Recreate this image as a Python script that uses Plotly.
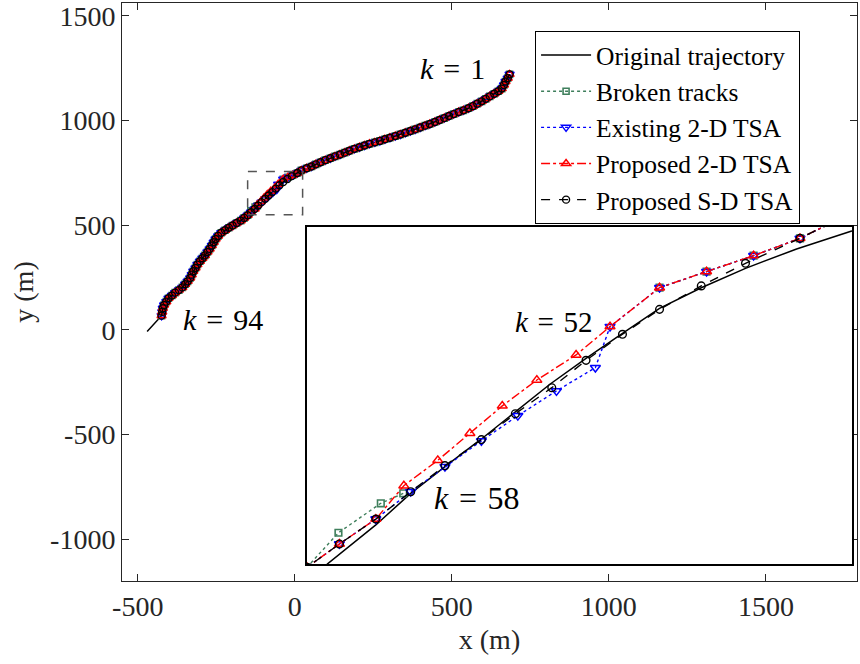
import plotly.graph_objects as go

# ---------------- data (metres) ----------------
# shared estimate points k = 1..47 (upper-right part of the track)
upper_x = [684, 678, 671, 666, 659, 648, 635, 621, 608, 595, 581, 567, 553, 537, 522, 506,
           491, 476, 461, 446, 430, 415, 399, 383, 368, 352, 336, 320, 303, 287, 271, 255,
           238, 222, 206, 190, 174, 159, 144, 128, 113, 97, 82, 67, 53, 38, 21]
upper_y = [1221, 1203, 1187, 1170, 1153, 1140, 1128, 1116, 1104, 1092, 1081, 1069, 1059, 1049,
           1041, 1031, 1022, 1012, 1003, 993, 984, 976, 967, 958, 950, 942, 934, 926, 918, 911,
           903, 896, 889, 881, 873, 865, 856, 847, 838, 829, 820, 811, 801, 791, 781, 772, 762]

# shared estimate points k = 61..94 (lower-left part of the track)
lower_x = [-150, -161, -172, -185, -198, -210, -222, -234, -244, -252, -258, -264, -271, -278,
           -286, -294, -302, -310, -316, -323, -328, -333, -341, -349, -358, -369, -381, -391,
           -402, -409, -416, -420, -422, -424]
lower_y = [548, 535, 522, 511, 499, 488, 476, 464, 449, 434, 419, 403, 387, 372, 356, 342, 328,
           312, 296, 280, 264, 248, 232, 218, 203, 190, 178, 164, 151, 135, 119, 103, 86, 68]

# k = 48..60 (zoomed region), per method
p2d_mid_x = [8.3, -6.6, -21.7, -36.8, -52.7, -63.6, -76.2, -87.3, -97.7, -108.0, -118.9, -127.9, -139.6]
p2d_mid_y = [750.0, 739.4, 729.6, 719.7, 695.8, 678.4, 663.0, 647.1, 630.3, 613.7, 598.1, 577.6, 562.3]

e2d_mid_x = [8.3, -6.6, -21.7, -36.8, -52.7, -57.4, -69.9, -82.3, -94.0, -105.7, -116.7, -127.9, -139.6]
e2d_mid_y = [750.0, 739.4, 729.6, 719.7, 695.8, 670.6, 656.3, 641.1, 625.6, 609.8, 594.4, 577.6, 562.3]

psd_mid_x = [8.3, -9.2, -23.4, -36.8, -48.7, -60.4, -71.4, -83.1, -94.0, -105.7, -116.7, -127.9, -139.6]
psd_mid_y = [750.0, 734.7, 720.8, 706.4, 691.1, 675.1, 658.3, 642.3, 626.4, 610.4, 594.4, 577.6, 562.3]

# broken tracks: k = 48..51 and k = 58..60 (k = 52..57 missing)
brk_mid1_x = [8.3, -6.6, -21.7, -36.8]
brk_mid1_y = [750.0, 739.4, 729.6, 719.7]
brk_mid2_x = [-119.1, -126.3, -139.9]
brk_mid2_y = [593.4, 587.3, 569.2]

# original trajectory
orig_x = [684, 669, 658, 631, 605, 557, 504, 451, 398, 345, 292, 239, 186, 133, 80, 45, 24.9, 7.2,
          -9.2, -23.4, -36.8, -48.7, -60.4, -72.0, -83.1, -94.0, -105.7, -116.7, -127.9, -137.3,
          -143.6, -164, -207, -239, -255, -270, -286, -308, -324, -334, -355, -377, -403, -419,
          -424, -470]
orig_y = [1221, 1180, 1148, 1125, 1101, 1061, 1030, 996, 966, 938, 913, 889, 863, 832, 800, 772,
          754.5, 743.5, 731.6, 719.7, 707.0, 691.7, 676.3, 660.4, 643.6, 626.8, 609.8, 593.4,
          574.0, 559.6, 549.8, 525, 491, 459, 428, 388, 356, 317, 277, 245, 206, 182, 150, 111,
          68, -8]

# zoom window
zoom_x = [-150, 25]
zoom_y = [550, 757]

x_ticks = [-500, 0, 500, 1000, 1500]
x_ticktext = ["-500", "0", "500", "1000", "1500"]
y_ticks = [-1000, -500, 0, 500, 1000, 1500]
y_ticktext = ["-1000", "-500", "0", "500", "1000", "1500"]

# ---------------- assemble series ----------------
p2d_x = upper_x + p2d_mid_x + lower_x
p2d_y = upper_y + p2d_mid_y + lower_y
e2d_x = upper_x + e2d_mid_x + lower_x
e2d_y = upper_y + e2d_mid_y + lower_y
psd_x = upper_x + psd_mid_x + lower_x
psd_y = upper_y + psd_mid_y + lower_y
brk_x = upper_x + brk_mid1_x + [None] + brk_mid2_x + lower_x
brk_y = upper_y + brk_mid1_y + [None] + brk_mid2_y + lower_y

FONT = "Liberation Serif"
GREEN = "#3f7f5c"


def make_series(scale):
    return [
        dict(name="Original trajectory", x=orig_x, y=orig_y, mode="lines",
             line=dict(color="black", width=1.5, dash="solid"), marker=None),
        dict(name="Broken tracks", x=brk_x, y=brk_y, mode="lines+markers",
             line=dict(color=GREEN, width=1.4, dash="dot"),
             marker=dict(symbol="square-open", color=GREEN, size=6 * scale,
                         line=dict(width=1.6, color=GREEN))),
        dict(name="Existing 2-D TSA", x=e2d_x, y=e2d_y, mode="lines+markers",
             line=dict(color="blue", width=1.4, dash="dot"),
             marker=dict(symbol="triangle-down-open", color="blue", size=8 * scale,
                         line=dict(width=1.5, color="blue"))),
        dict(name="Proposed 2-D TSA", x=p2d_x, y=p2d_y, mode="lines+markers",
             line=dict(color="red", width=1.4, dash="dashdot"),
             marker=dict(symbol="triangle-up-open", color="red", size=8 * scale,
                         line=dict(width=1.5, color="red"))),
        dict(name="Proposed S-D TSA", x=psd_x, y=psd_y, mode="lines+markers",
             line=dict(color="black", width=1.4, dash="dash"),
             marker=dict(symbol="circle-open", color="black", size=7 * scale,
                         line=dict(width=1.4, color="black"))),
    ]


fig = go.Figure()
for s in make_series(1.0):
    kw = dict(x=s["x"], y=s["y"], mode=s["mode"], line=s["line"], name=s["name"])
    if s["marker"] is not None:
        kw["marker"] = s["marker"]
    fig.add_trace(go.Scatter(**kw, xaxis="x", yaxis="y", showlegend=True))
for s in make_series(1.1):
    kw = dict(x=s["x"], y=s["y"], mode=s["mode"], line=s["line"], name=s["name"])
    if s["marker"] is not None:
        kw["marker"] = s["marker"]
    fig.add_trace(go.Scatter(**kw, xaxis="x2", yaxis="y2", showlegend=False))

AX = "#262626"
SP = "\u2004"
fig.update_layout(
    width=860, height=664,
    margin=dict(l=122, r=3, t=3, b=83, autoexpand=False),
    plot_bgcolor="white", paper_bgcolor="white",
    font=dict(family=FONT, color=AX, size=28),
    xaxis=dict(domain=[0, 1], anchor="y", range=[-550, 1790], tickvals=x_ticks, ticktext=x_ticktext,
               ticks="inside", ticklen=7, tickcolor=AX, showline=True, linecolor=AX, linewidth=1,
               mirror="ticks", showgrid=False, zeroline=False, ticklabeloverflow="allow",
               automargin=False,
               tickfont=dict(family=FONT, size=28, color=AX),
               title=dict(text="x (m)", font=dict(family=FONT, size=28, color=AX), standoff=8)),
    yaxis=dict(domain=[0, 1], anchor="x", range=[-1200, 1562], tickvals=y_ticks, ticktext=y_ticktext,
               ticks="inside", ticklen=7, tickcolor=AX, showline=True, linecolor=AX, linewidth=1,
               mirror="ticks", showgrid=False, zeroline=False, ticklabeloverflow="allow",
               automargin=False,
               tickfont=dict(family=FONT, size=28, color=AX),
               title=dict(text="y (m)", font=dict(family=FONT, size=28, color=AX), standoff=8)),
    xaxis2=dict(domain=[0.2517, 0.9932], anchor="y2", range=zoom_x, showticklabels=False, ticks="",
                showline=True, linecolor="black", linewidth=1.8, mirror=True, showgrid=False,
                zeroline=False, automargin=False),
    yaxis2=dict(domain=[0.0294, 0.6125], anchor="x2", range=zoom_y, showticklabels=False, ticks="",
                showline=True, linecolor="black", linewidth=1.8, mirror=True, showgrid=False,
                zeroline=False, automargin=False),
    legend=dict(x=0.562, y=0.9516, xanchor="left", yanchor="top", bgcolor="white",
                bordercolor="black", borderwidth=1, itemwidth=50, tracegroupgap=0,
                font=dict(family=FONT, size=25.5, color="black")),
    shapes=[dict(type="rect", xref="x", yref="y", x0=zoom_x[0], x1=zoom_x[1], y0=zoom_y[0], y1=zoom_y[1],
                 line=dict(color="#555555", width=1.5, dash="dash"), fillcolor="rgba(0,0,0,0)")],
    annotations=[
        dict(text="<i>k</i>" + SP + "=" + SP + "1", x=503, y=1247, xref="x", yref="y", showarrow=False,
             font=dict(family=FONT, size=30, color="black")),
        dict(text="<i>k</i>" + SP + "=" + SP + "94", x=-229, y=49, xref="x", yref="y", showarrow=False,
             font=dict(family=FONT, size=30, color="black")),
        dict(text="<i>k</i>" + SP + "=" + SP + "52", x=-70.7, y=698.6, xref="x2", yref="y2", showarrow=False,
             font=dict(family=FONT, size=29, color="black")),
        dict(text="<i>k</i>" + SP + "=" + SP + "58", x=-95.4, y=590.5, xref="x2", yref="y2", showarrow=False,
             font=dict(family=FONT, size=32, color="black")),
    ],
)

fig.write_html("out.html")
